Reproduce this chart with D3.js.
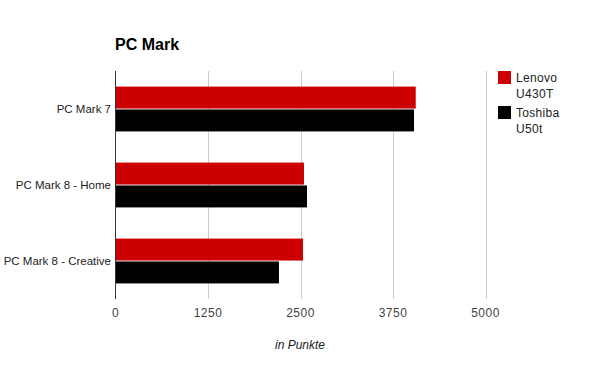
<!DOCTYPE html>
<html>
<head>
<meta charset="utf-8">
<script src="https://cdn.jsdelivr.net/npm/d3@7"></script>
<style>
  body { margin: 0; background: #fff; }
  text { font-family: Arial, "Liberation Sans", sans-serif; }
</style>
</head>
<body>
<script>
var svg_width  = 600;
var svg_height = 371;

// data
var categories = ["PC Mark 7", "PC Mark 8 - Home", "PC Mark 8 - Creative"];
var seriesNames = ["Lenovo U430T", "Toshiba U50t"];
var lenovo  = [4057, 2547, 2534];
var toshiba = [4034, 2588, 2209];
var ticks = [0, 1250, 2500, 3750, 5000];
var colors = ["#cc0000", "#000000"];

var margin = {left: 115.5, right: 114.5, top: 71, bottom: 72};

var svg = d3.select('body').append('svg')
            .attr('width', svg_width)
            .attr('height', svg_height);

var x = d3.scaleLinear()
          .domain([0, 5000])
          .range([margin.left, 485.5]);

var y = d3.scaleBand()
          .domain(categories)
          .range([margin.top, svg_height - margin.bottom])
          .paddingInner(0.41)
          .paddingOuter(0.205);

var y1 = d3.scaleBand()
           .domain([0, 1])
           .range([0, y.bandwidth()])
           .paddingInner(0.04);

// gridlines
svg.append("g")
   .selectAll("line")
   .data(ticks.slice(1))
   .enter().append("line")
   .attr("x1", d => Math.round(x(d)) + 0.5)
   .attr("x2", d => Math.round(x(d)) + 0.5)
   .attr("y1", margin.top)
   .attr("y2", svg_height - margin.bottom)
   .attr("stroke", "#cccccc");

// bars
var rows = categories.map((c, i) => ({cat: c, vals: [lenovo[i], toshiba[i]]}));

svg.append("g")
   .selectAll("g")
   .data(rows)
   .enter().append("g")
   .attr("transform", d => "translate(0," + y(d.cat) + ")")
   .selectAll("rect")
   .data(d => d.vals)
   .enter().append("rect")
   .attr("x", x(0))
   .attr("y", (d, i) => y1(i))
   .attr("width", d => x(d) - x(0))
   .attr("height", y1.bandwidth())
   .attr("fill", (d, i) => colors[i]);

// baseline
svg.append("line")
   .attr("x1", 115.5).attr("x2", 115.5)
   .attr("y1", margin.top).attr("y2", svg_height - margin.bottom)
   .attr("stroke", "#333333");

// category labels
svg.append("g")
   .selectAll("text")
   .data(categories)
   .enter().append("text")
   .attr("x", 111)
   .attr("y", d => y(d) + y.bandwidth() / 2)
   .attr("dy", "0.35em")
   .attr("text-anchor", "end")
   .attr("font-size", 11.5)
   .attr("fill", "#222222")
   .text(d => d);

// tick labels
svg.append("g")
   .selectAll("text")
   .data(ticks)
   .enter().append("text")
   .attr("x", d => x(d))
   .attr("y", 317)
   .attr("text-anchor", "middle")
   .attr("font-size", 12)
   .attr("letter-spacing", 0.5)
   .attr("fill", "#444444")
   .text(d => d);

// axis title
svg.append("text")
   .attr("x", 300)
   .attr("y", 349)
   .attr("text-anchor", "middle")
   .attr("font-size", 12)
   .attr("font-style", "italic")
   .attr("fill", "#222222")
   .text("in Punkte");

// chart title
svg.append("text")
   .attr("x", 115)
   .attr("y", 50)
   .attr("font-size", 16)
   .attr("font-weight", "bold")
   .attr("fill", "#000000")
   .text("PC Mark");

// legend
var legend = svg.append("g")
                .selectAll("g")
                .data(seriesNames)
                .enter().append("g")
                .attr("transform", (d, i) => "translate(498," + (71 + i * 35) + ")");

legend.append("rect")
      .attr("width", 13)
      .attr("height", 13)
      .attr("fill", (d, i) => colors[i]);

legend.append("text")
      .attr("x", 18)
      .attr("y", 11)
      .attr("font-size", 12)
      .attr("letter-spacing", 0.3)
      .attr("fill", "#222222")
      .selectAll("tspan")
      .data(d => d.split(" "))
      .enter().append("tspan")
      .attr("x", 18)
      .attr("dy", (d, i) => i ? 16 : 0)
      .text(d => d);
</script>
</body>
</html>
